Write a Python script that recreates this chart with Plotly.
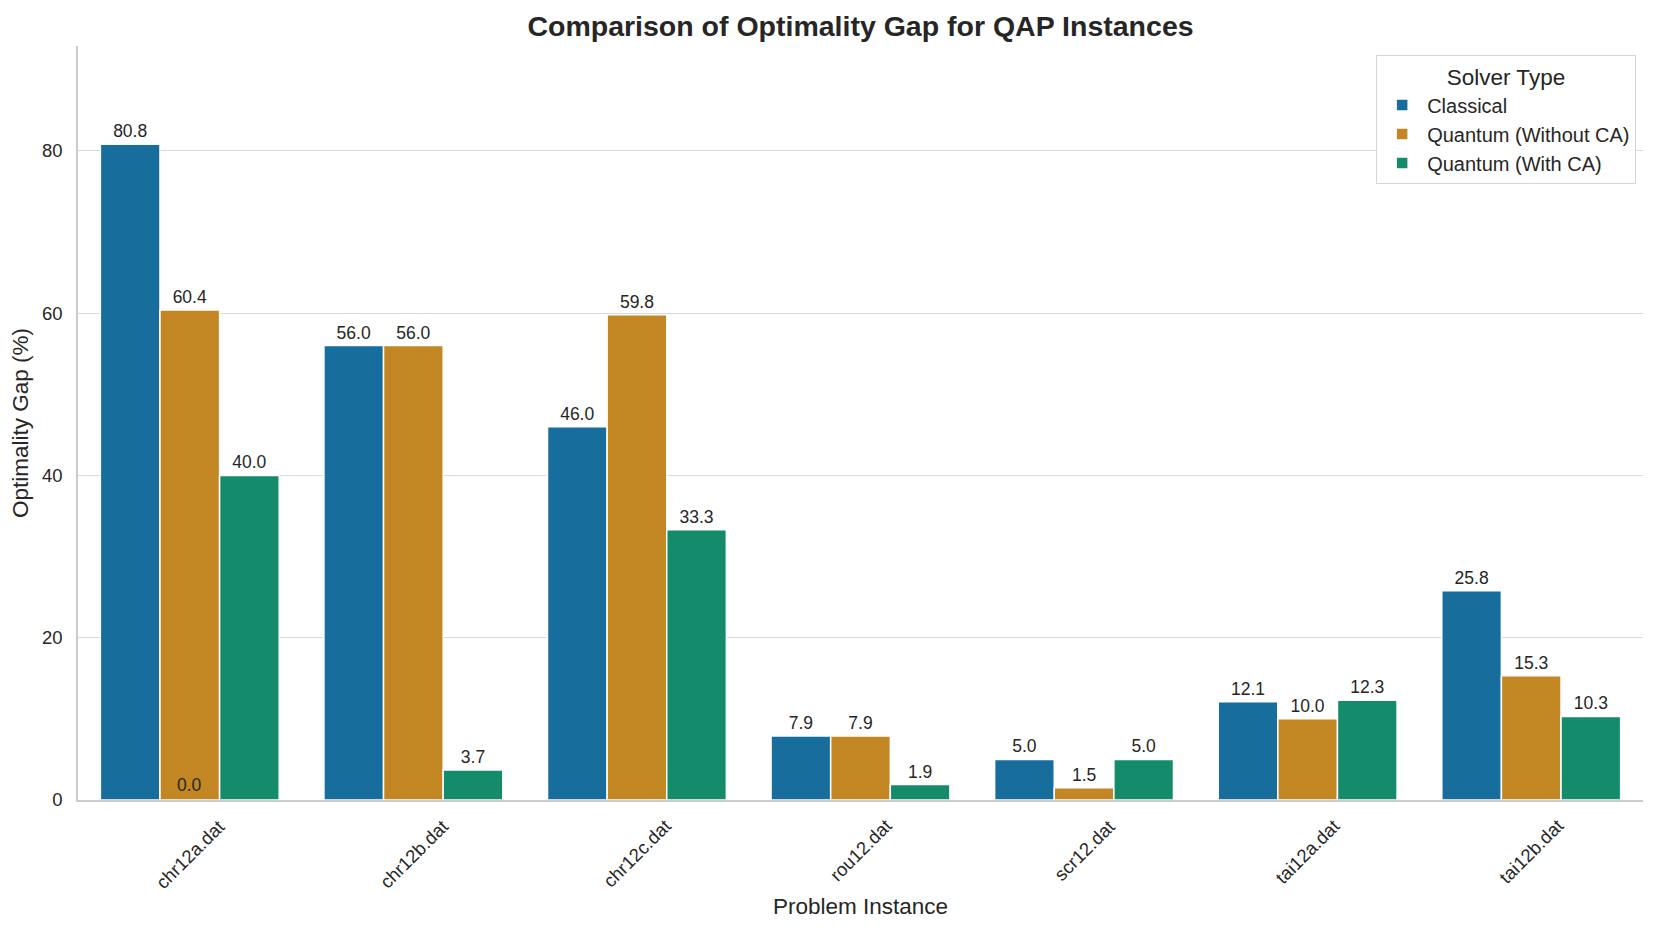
import plotly.graph_objects as go

instances = ["chr12a.dat", "chr12b.dat", "chr12c.dat", "rou12.dat", "scr12.dat", "tai12a.dat", "tai12b.dat"]
classical = [80.8, 56.0, 46.0, 7.9, 5.0, 12.1, 25.8]
quantum_without_ca = [60.4, 56.0, 59.8, 7.9, 1.5, 10.0, 15.3]
quantum_with_ca = [40.0, 3.7, 33.3, 1.9, 5.0, 12.3, 10.3]
series_names = ["Classical", "Quantum (Without CA)", "Quantum (With CA)"]
colors = ["#176d9c", "#c28722", "#148b6b"]
y_ticks = [0, 20, 40, 60, 80]

FONT = "Liberation Sans, Arial, sans-serif"
TXT = "#262626"

fig = go.Figure()
for name, vals, col in zip(series_names, [classical, quantum_without_ca, quantum_with_ca], colors):
    fig.add_trace(go.Bar(
        x=instances, y=vals, name=name,
        marker=dict(color=col, line=dict(color="white", width=1.5)),
        texttemplate="%{y:.1f}", textposition="outside",
        textfont=dict(size=17.5, color=TXT, family=FONT),
        cliponaxis=False,
    ))

# extra zero label at base of chr12a middle bar
fig.add_annotation(x=instances[0], y=0, text="0.0", showarrow=False,
                   yanchor="bottom", yshift=3,
                   font=dict(size=17.5, color=TXT, family=FONT))

# rotated x tick labels, centred on each category
for inst in instances:
    fig.add_annotation(x=inst, xref="x", y=0, yref="paper", text=inst,
                       showarrow=False, textangle=-45, xanchor="center",
                       yanchor="top", yshift=-13,
                       font=dict(size=18.5, color=TXT, family=FONT))

# x axis title
fig.add_annotation(x=0.5, xref="paper", y=0, yref="paper", text="Problem Instance",
                   showarrow=False, xanchor="center", yanchor="middle", yshift=-106,
                   font=dict(size=22.5, color=TXT, family=FONT))

ymax = max(classical + quantum_without_ca + quantum_with_ca) * 1.15

fig.update_layout(
    width=1645, height=918,
    margin=dict(l=67, r=10, t=38, b=126),
    paper_bgcolor="white", plot_bgcolor="white",
    barmode="group", bargap=0.2, bargroupgap=0,
    font=dict(family=FONT, color=TXT),
    title=dict(text="<b>Comparison of Optimality Gap for QAP Instances</b>",
               x=0.5, xanchor="center", xref="paper", y=0.980, yanchor="middle",
               font=dict(size=28.5, color=TXT, family=FONT)),
    xaxis=dict(
        showticklabels=False,
        showline=True, linecolor="#cccccc", linewidth=1.5,
        showgrid=False, ticks="", range=[-0.5, 6.5],
    ),
    yaxis=dict(
        title=dict(text="Optimality Gap (%)", font=dict(size=22.5, color=TXT), standoff=8),
        range=[0, ymax], tickvals=y_ticks,
        tickfont=dict(size=18.5, color=TXT),
        showline=True, linecolor="#cccccc", linewidth=1.5,
        showgrid=True, gridcolor="#d9d9d9", gridwidth=1.2,
        zeroline=False, ticks="outside", ticklen=10, tickcolor="rgba(0,0,0,0)",
    ),
    legend=dict(
        title=dict(text="Solver Type", side="top center", font=dict(size=22.5, color=TXT)),
        x=0.9955, xanchor="right", y=0.988, yanchor="top",
        bgcolor="white", bordercolor="#d6d6d6", borderwidth=1.2,
        font=dict(size=20, color=TXT), itemwidth=40,
        tracegroupgap=0,
    ),
)

fig.write_html("out.html")
